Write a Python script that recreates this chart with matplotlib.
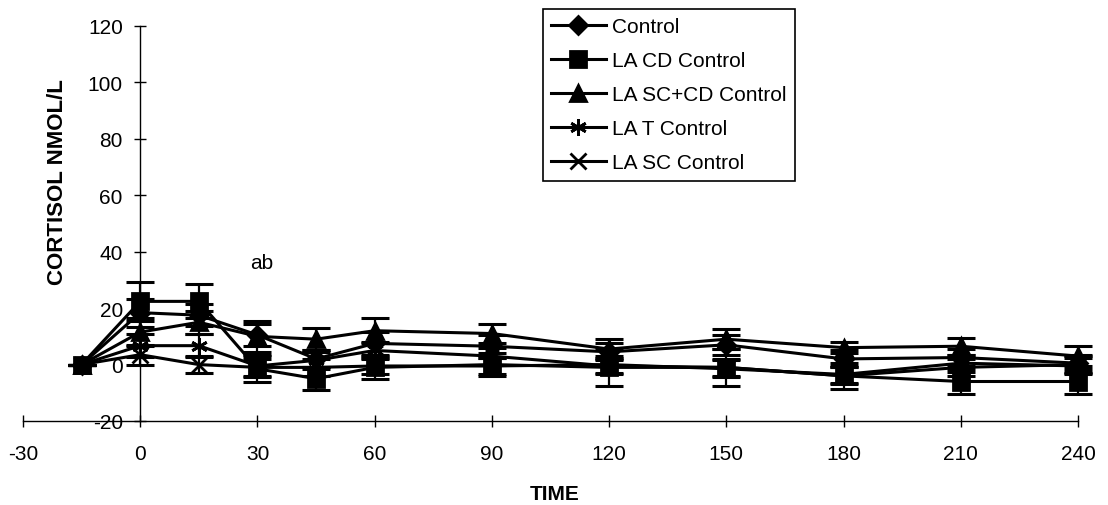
import matplotlib.pyplot as plt

plt.rcParams['font.family'] = ['Liberation Sans', 'DejaVu Sans']
plt.rcParams['axes.unicode_minus'] = False

# sampling times (min)
time = [-15, 0, 15, 30, 45, 60, 90, 120, 150, 180, 210, 240]

# cortisol change (nmol/L) and SEM
control = [0, 18.4, 17.5, 10.5, 2.0, 7.5, 6.5, 4.5, 7.0, 2.0, 2.5, 0.5]
control_err = [0, 5, 4, 4, 3, 4, 4, 3, 3.5, 3, 3, 3]

la_cd = [0, 22.4, 22.4, -1.5, -5.0, -1.0, 0.0, -1.0, -1.0, -4.0, -6.0, -6.0]
la_cd_err = [0, 7, 6, 4.5, 4, 4, 4, 6.5, 6.5, 4.5, 4.5, 4.5]

la_sc_cd = [0, 11.5, 15.0, 10.0, 9.0, 12.0, 11.0, 5.5, 9.0, 6.0, 6.5, 3.0]
la_sc_cd_err = [0, 5, 4, 5.5, 4, 4.5, 3.5, 3.5, 3.5, 2, 3, 3.5]

la_t = [0, 6.7, 6.7, -0.5, 1.5, 5.0, 3.0, -0.5, -1.0, -4.0, -1.0, 0.0]
la_t_err = [0, 4, 4, 4, 3, 3, 3, 3, 3, 3, 3, 3]

la_sc = [0, 3.5, 0.0, -1.0, -1.0, -0.5, -0.5, 0.0, -1.5, -3.5, 0.5, -0.5]
la_sc_err = [0, 3.5, 3, 3, 3, 3, 3, 3, 3, 3, 3, 3]

labels = ['Control', 'LA CD Control', 'LA SC+CD Control', 'LA T Control', 'LA SC Control']
markers = ['D', 's', '^', (6, 2, 0), 'x']
sizes = [9, 11, 11, 12, 11]

series = [
    (control, control_err),
    (la_cd, la_cd_err),
    (la_sc_cd, la_sc_cd_err),
    (la_t, la_t_err),
    (la_sc, la_sc_err),
]

fig = plt.figure(figsize=(11.08, 5.06), dpi=100)
ax = fig.add_axes([23 / 1108, 1 - 422 / 506, (1078 - 23) / 1108, (422 - 27) / 506])

for (vals, errs), lab, mk, ms in zip(series, labels, markers, sizes):
    ax.errorbar(time, vals, yerr=errs, fmt='none', ecolor='black',
                elinewidth=1.6, capsize=10, capthick=2.2, clip_on=False)
    ax.plot(time, vals, color='black', linewidth=2.2, marker=mk, markersize=ms,
            markeredgewidth=2, markerfacecolor='black', markeredgecolor='black',
            label=lab, clip_on=False)

ax.set_xlim(-30, 240)
ax.set_ylim(-20, 120)
ax.set_xticks(range(-30, 241, 30))
ax.set_yticks(range(-20, 121, 20))

ax.spines['left'].set_position(('data', 0))
ax.spines['top'].set_visible(False)
ax.spines['right'].set_visible(False)
for s in ['left', 'bottom']:
    ax.spines[s].set_linewidth(1)

ax.tick_params(direction='inout', length=9, width=1, labelsize=15)
ax.tick_params(axis='x', pad=12)
ax.tick_params(axis='y', pad=8)

ax.text(31, 36, 'ab', ha='center', va='center', fontsize=15)

fig.text(58 / 1108, 1 - 182 / 506, 'CORTISOL NMOL/L', rotation=90, ha='center',
         va='center', fontsize=16, fontweight='bold')
fig.text(555 / 1108, 1 - 495 / 506, 'TIME', ha='center', va='center',
         fontsize=15, fontweight='bold')

leg = ax.legend(loc='upper left', bbox_to_anchor=(543 / 1108, 1 - 10 / 506),
                bbox_transform=fig.transFigure, borderaxespad=0, fontsize=15,
                frameon=True, fancybox=False, framealpha=1, edgecolor='black',
                handlelength=2.6, handletextpad=0.3, labelspacing=0.72,
                borderpad=0.4)
leg.get_frame().set_linewidth(1.2)

fig.savefig('out.png', dpi=100)
